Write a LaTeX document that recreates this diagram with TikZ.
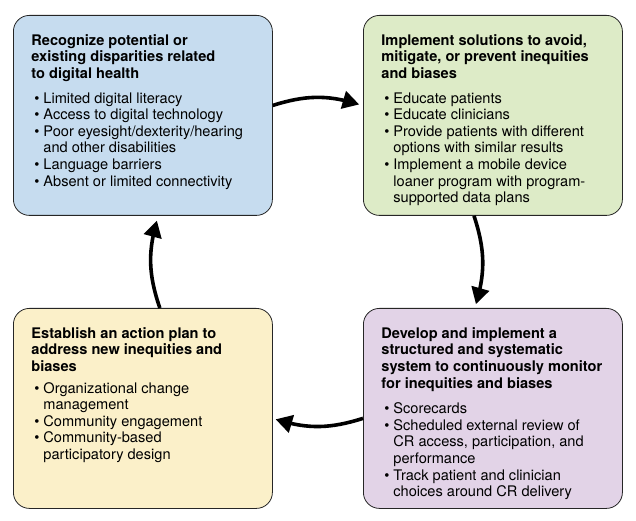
\documentclass[tikz,border=0pt]{standalone}
\usepackage{fontspec}
\setmainfont{TeX Gyre Heros}
\usetikzlibrary{arrows}

\definecolor{boxblue}{RGB}{198,220,239}
\definecolor{boxgreen}{RGB}{221,235,199}
\definecolor{boxyellow}{RGB}{251,240,201}
\definecolor{boxpurple}{RGB}{226,211,231}

\newenvironment{bullets}{\begin{list}{\textbullet}{\setlength{\leftmargin}{12bp}\setlength{\labelwidth}{8bp}\setlength{\labelsep}{4bp}\setlength{\itemsep}{0pt}\setlength{\parsep}{0pt}\setlength{\topsep}{0pt}\setlength{\partopsep}{0pt}}}{\end{list}}
\newcommand{\boxtext}[3]{\parbox[t][162bp][t]{223bp}{\setlength{\parskip}{0pt}\fontsize{14.6bp}{16.6bp}\selectfont\textbf{#1}\par\vspace{#2}#3}}

\tikzset{stage/.style={draw=black!85,line width=0.8bp,rounded corners=16bp,anchor=north west,minimum width=259bp,minimum height=200bp,inner xsep=18bp,inner ysep=19bp}}
\tikzset{flow/.style={line width=3.6bp,-triangle 60}}

\begin{document}
\begin{tikzpicture}[x=1bp,y=1bp]
\useasboundingbox (0,0) rectangle (636,521);

\node[stage,fill=boxblue] (recog) at (13,506) {\boxtext{Recognize potential or\\existing disparities related\\to digital health}{8bp}{\begin{bullets}
\item Limited digital literacy
\item Access to digital technology
\item Poor eyesight/dexterity/hearing\\and other disabilities
\item Language barriers
\item Absent or limited connectivity
\end{bullets}}};
\node[stage,fill=boxgreen] (impl) at (363,506) {\boxtext{Implement solutions to avoid,\\mitigate, or prevent inequities\\and biases}{8bp}{\begin{bullets}
\item Educate patients
\item Educate clinicians
\item Provide patients with different\\options with similar results
\item Implement a mobile device\\loaner program with program-\\supported data plans
\end{bullets}}};
\node[stage,fill=boxpurple] (monit) at (363,213) {\boxtext{Develop and implement a\\structured and systematic\\system to continuously monitor\\for inequities and biases}{9bp}{\begin{bullets}
\item Scorecards
\item Scheduled external review of\\CR access, participation, and\\performance
\item Track patient and clinician\\choices around CR delivery
\end{bullets}}};
\node[stage,fill=boxyellow] (plan) at (13,213) {\boxtext{Establish an action plan to\\address new inequities and\\biases}{5bp}{\begin{bullets}
\item Organizational change\\management
\item Community engagement
\item Community-based\\participatory design
\end{bullets}}};

\draw[flow] ([yshift=10]recog.east) to[bend left=17] ([xshift=-4,yshift=11]impl.west);
\draw[flow] ([xshift=-19]impl.south) to[bend left=17] ([xshift=-17,yshift=4]monit.north);
\draw[flow] ([yshift=-10]monit.west) to[bend left=17] ([xshift=3,yshift=-11]plan.east);
\draw[flow] ([xshift=17]plan.north) to[bend left=17] ([xshift=14,yshift=-5]recog.south);
\end{tikzpicture}
\end{document}
